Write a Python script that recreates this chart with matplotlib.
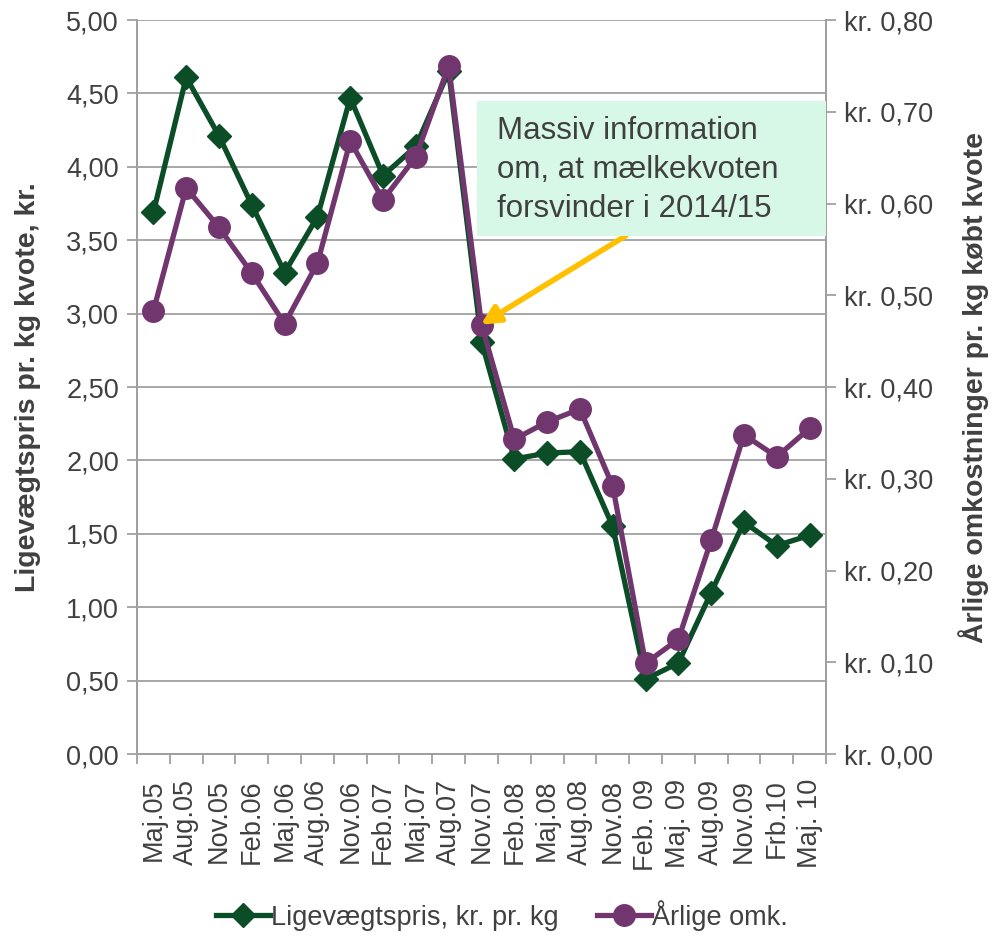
import matplotlib.pyplot as plt
from matplotlib.ticker import FixedLocator, FuncFormatter

plt.rcParams['font.family'] = ['Liberation Sans', 'DejaVu Sans']

periods = ['Maj.05', 'Aug.05', 'Nov.05', 'Feb.06', 'Maj.06', 'Aug.06', 'Nov.06',
           'Feb.07', 'Maj.07', 'Aug.07', 'Nov.07', 'Feb.08', 'Maj.08', 'Aug.08',
           'Nov.08', 'Feb. 09', 'Maj. 09', 'Aug.09', 'Nov.09', 'Frb.10', 'Maj. 10']
ligevaegt = [3.69, 4.61, 4.21, 3.74, 3.28, 3.66, 4.47, 3.94, 4.14, 4.65, 2.81,
             2.01, 2.05, 2.06, 1.55, 0.51, 0.62, 1.10, 1.58, 1.42, 1.49]
aarlige = [0.483, 0.617, 0.574, 0.524, 0.469, 0.535, 0.668, 0.604, 0.651, 0.750,
           0.468, 0.343, 0.362, 0.376, 0.292, 0.099, 0.125, 0.233, 0.348, 0.324, 0.355]

green = '#0b4d26'
purple = '#72366f'
txt = '#404040'
grey = '#a0a0a0'


def dk(v, pos, dec=2):
    return f'{v:.{dec}f}'.replace('.', ',')


def main():
    fig = plt.figure(figsize=(10, 9.36), dpi=100)
    ax = fig.add_axes([0.137, 0.1944, 0.689, 0.7842])
    ax2 = ax.twinx()

    x = range(len(periods))
    l1, = ax.plot(x, ligevaegt, color=green, lw=3.8, marker='D', ms=12,
                  label='Ligevægtspris, kr. pr. kg', zorder=3)
    l2, = ax2.plot(x, aarlige, color=purple, lw=3.8, marker='o', ms=15.5,
                   label='Årlige omk.', zorder=3)

    ax.set_xlim(-0.5, len(periods) - 0.5)
    ax.set_ylim(0, 5)
    ax2.set_ylim(0, 0.8)
    ax.set_yticks([i * 0.5 for i in range(11)])
    ax2.set_yticks([i * 0.1 for i in range(9)])
    ax.yaxis.set_major_formatter(FuncFormatter(dk))
    ax2.yaxis.set_major_formatter(FuncFormatter(lambda v, p: 'kr. ' + dk(v, p)))
    ax.grid(axis='y', color=grey, lw=1.3)
    ax.set_axisbelow(True)

    ax.set_xticks(list(x))
    ax.set_xticklabels(periods, rotation=90)
    ax.xaxis.set_minor_locator(FixedLocator([i - 0.5 for i in range(len(periods) + 1)]))
    ax.tick_params(axis='x', which='major', length=0, pad=18)
    ax.tick_params(axis='x', which='minor', length=7, color=grey, width=1.3)
    ax.tick_params(axis='y', length=7, color=grey, width=1.3, pad=6)
    ax2.tick_params(axis='y', length=7, color=grey, width=1.3, pad=6)
    for a in (ax, ax2):
        a.tick_params(labelsize=19.5, labelcolor=txt)
        for s in a.spines.values():
            s.set_color(grey)
            s.set_linewidth(1.3)
        a.spines['top'].set_visible(False)

    ax.set_ylabel('Ligevægtspris pr. kg kvote, kr.', fontsize=20.5, fontweight='bold',
                  color=txt, labelpad=18)
    ax2.set_ylabel('Årlige omkostninger pr. kg købt kvote', fontsize=20.5,
                   fontweight='bold', color=txt, labelpad=18)

    # annotation box with arrow
    ax2.annotate('', xy=(9.98, aarlige[10]), xytext=(14.4, 0.565),
                 arrowprops=dict(arrowstyle='-|>', color='#ffc000', lw=4,
                                 mutation_scale=28, shrinkA=0, shrinkB=0),
                 zorder=5)
    fig.patches.append(plt.Rectangle((0.477, 0.7479), 0.349, 0.1442,
                                     transform=fig.transFigure, facecolor='#d8f8e7',
                                     edgecolor='none', zorder=6))
    fig.text(0.497, 0.876, 'Massiv information\nom, at mælkekvoten\nforsvinder i 2014/15',
             fontsize=22.5, color=txt, va='top', ha='left', linespacing=1.38, zorder=7)

    fig.legend([l1, l2], [l1.get_label(), l2.get_label()], loc='center',
               bbox_to_anchor=(0.502, 0.022), ncol=2, frameon=False, fontsize=19.5,
               labelcolor=txt, handlelength=2.0, columnspacing=1.4, handletextpad=0.05)

    fig.savefig('out.png', dpi=100)


if __name__ == '__main__':
    main()
